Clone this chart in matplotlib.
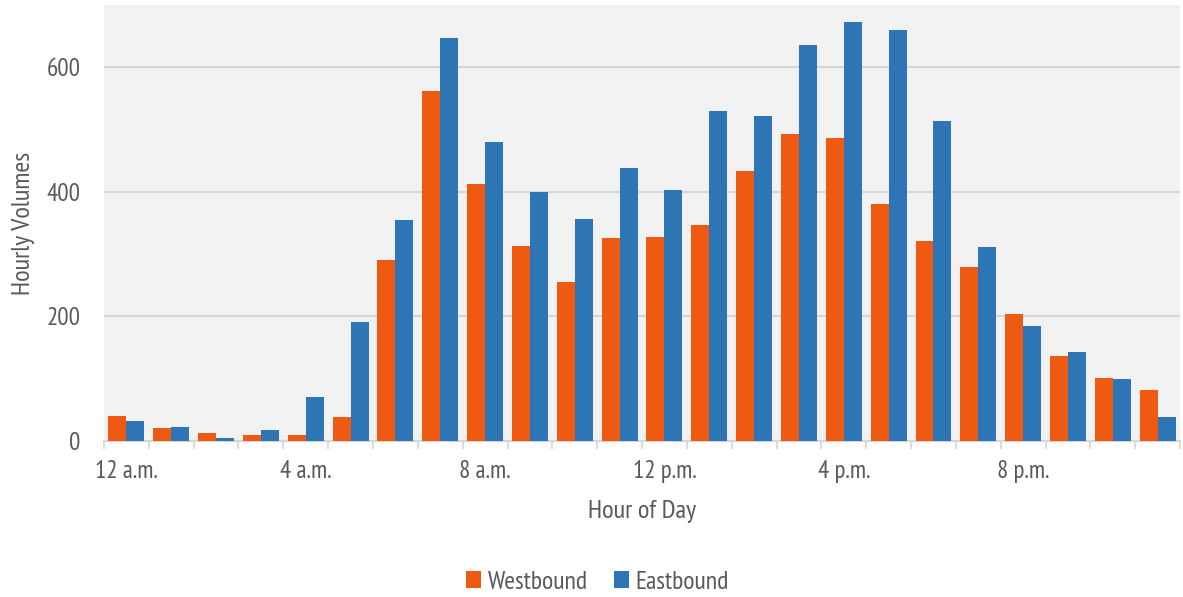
import matplotlib.pyplot as plt
import numpy as np

# Hourly traffic volumes by direction
hours = list(range(24))
westbound = [40, 20, 12, 10, 10, 38, 290, 562, 412, 313, 255, 325,
             327, 346, 433, 493, 487, 381, 321, 280, 204, 136, 101, 82]
eastbound = [32, 23, 5, 18, 70, 191, 354, 647, 480, 400, 356, 439,
             403, 530, 522, 636, 673, 660, 514, 311, 185, 143, 99, 39]
tick_hours = [0, 4, 8, 12, 16, 20]
tick_labels = ['12 a.m.', '4 a.m.', '8 a.m.', '12 p.m.', '4 p.m.', '8 p.m.']

west_color = '#EE5A12'
east_color = '#2E75B6'
text_color = '#595959'

plt.rcParams['font.family'] = ['PT Sans Narrow', 'Roboto Condensed',
                               'Liberation Sans Narrow', 'DejaVu Sans']

fig = plt.figure(figsize=(11.83, 5.97), dpi=100)
ax = fig.add_axes([0.0879, 0.2616, 0.9096, 0.73])
ax.set_facecolor('#F2F2F2')

x = np.arange(len(hours))
w = 0.4
ax.bar(x - w / 2, westbound, width=w, color=west_color, label='Westbound', zorder=3)
ax.bar(x + w / 2, eastbound, width=w, color=east_color, label='Eastbound', zorder=3)

ax.set_xlim(-0.5, 23.5)
ax.set_ylim(0, 700)

# y axis and gridlines
ax.set_yticks([0, 200, 400, 600])
ax.yaxis.grid(True, color='#D6D6D6', linewidth=1.5, zorder=0)
ax.tick_params(axis='y', length=0, pad=17, labelsize=18, labelcolor=text_color)

# category boundaries as small ticks, labels every four hours
ax.set_xticks(tick_hours)
ax.set_xticklabels(tick_labels)
ax.set_xticks(np.arange(-0.5, 24, 1), minor=True)
ax.tick_params(axis='x', which='major', length=0, pad=14, labelsize=18,
               labelcolor=text_color)
ax.tick_params(axis='x', which='minor', length=6, width=1.2, color='#D6D6D6')

for side in ['left', 'right', 'top']:
    ax.spines[side].set_visible(False)
ax.spines['bottom'].set_color('#D6D6D6')
ax.spines['bottom'].set_linewidth(1.5)

ax.set_xlabel('Hour of Day', fontsize=19, color=text_color)
ax.xaxis.set_label_coords(0.5, -0.135)
ax.set_ylabel('Hourly Volumes', fontsize=19, color=text_color)
ax.yaxis.set_label_coords(-0.064, 0.5)

fig.legend(loc='center', bbox_to_anchor=(0.505, 0.025), ncol=2, frameon=False,
           fontsize=18.5, labelcolor=text_color, handlelength=0.6, handleheight=0.6,
           handletextpad=0.25, columnspacing=1.0)

fig.savefig('out.png', dpi=100, facecolor='white')
